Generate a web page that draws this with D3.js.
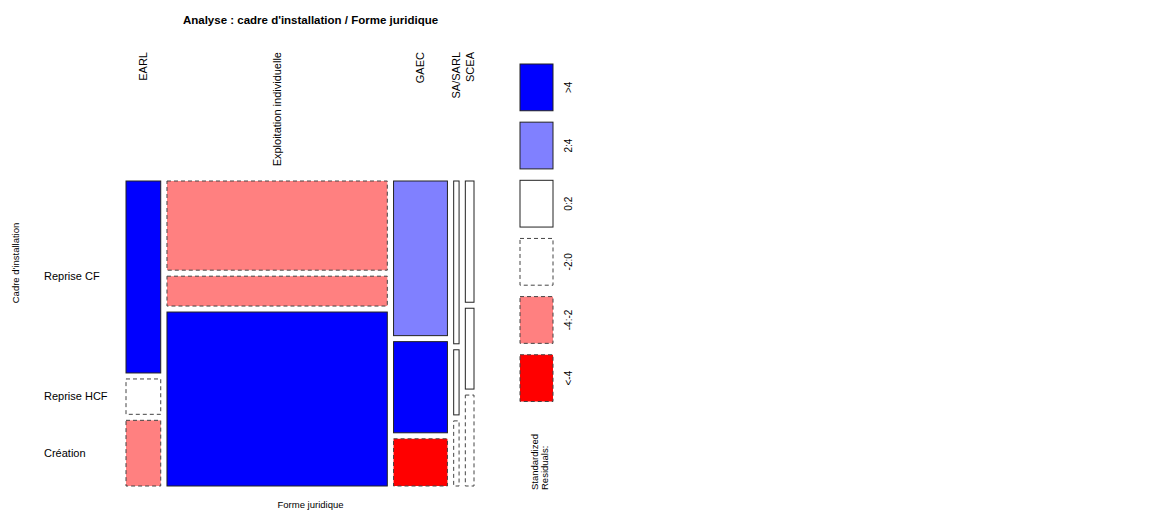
<!DOCTYPE html>
<html>
<head>
<meta charset="utf-8">
<script src="https://cdn.jsdelivr.net/npm/d3@7"></script>
<style>
  html, body { margin: 0; padding: 0; background: #fff; }
  svg { display: block; font-family: "Liberation Sans", Arial, sans-serif; }
</style>
</head>
<body>
<svg id="chart" width="1163" height="511"></svg>
<script>
// Contingency table: installation setting (rows) by legal form (columns)
const formes = ["EARL", "Exploitation individuelle", "GAEC", "SA/SARL", "SCEA"];
const cadres = ["Reprise CF", "Reprise HCF", "Création"];
const repriseCF  = [76, 224, 95, 10, 12];
const repriseHCF = [14, 75, 56, 4, 8];
const creation   = [26, 437, 29, 4, 9];

// Residual shading classes (Pearson residuals)
const residualLabels = [">4", "2:4", "0:2", "-2:0", "-4:-2", "<-4"];
const residualFills  = ["#0000FF", "#8080FF", "#FFFFFF", "#FFFFFF", "#FF8080", "#FF0000"];
const residualDashed = [false, false, false, true, true, true];

const counts = [repriseCF, repriseHCF, creation];

const svg = d3.select("#chart");

// Plot frame
const plotLeft = 126, plotRight = 474, plotTop = 181, plotBottom = 486;
const gapX = 6.25, gapY = 6;

const colTotals = formes.map((_, j) => d3.sum(counts, r => r[j]));
const rowTotals = counts.map(r => d3.sum(r));
const N = d3.sum(colTotals);

const x = d3.scaleLinear().domain([0, N])
  .range([0, (plotRight - plotLeft) - gapX * (formes.length - 1)]);
const yFrac = d3.scaleLinear().domain([0, 1])
  .range([0, (plotBottom - plotTop) - gapY * (cadres.length - 1)]);

function classOf(r) {
  if (r > 4) return 0;
  if (r > 2) return 1;
  if (r >= 0) return 2;
  if (r >= -2) return 3;
  if (r >= -4) return 4;
  return 5;
}

const tiles = [];
let cum = 0;
formes.forEach((f, j) => {
  const x0 = plotLeft + x(cum) + j * gapX;
  const w = x(colTotals[j]);
  let cumRow = 0;
  cadres.forEach((c, i) => {
    const o = counts[i][j];
    const e = colTotals[j] * rowTotals[i] / N;
    const res = (o - e) / Math.sqrt(e);
    const p = o / colTotals[j];
    const y0 = plotTop + yFrac(cumRow) + i * gapY;
    const h = yFrac(p);
    tiles.push({ forme: f, cadre: c, x: x0, w, y: y0, h, cls: classOf(res), i, j });
    cumRow += p;
  });
  cum += colTotals[j];
});

// Tiles
svg.append("g").selectAll("rect").data(tiles).join("rect")
  .attr("x", d => d.x)
  .attr("y", d => d.y)
  .attr("width", d => d.w)
  .attr("height", d => d.h)
  .attr("fill", d => residualFills[d.cls])
  .attr("stroke", d => residualDashed[d.cls] ? "#444" : "#222")
  .attr("stroke-width", 1)
  .attr("stroke-dasharray", d => residualDashed[d.cls] ? "4,3" : null);

// Column labels (legal form), rotated, top-aligned
const colCenters = formes.map((f, j) => {
  const t = tiles.find(d => d.j === j);
  return t.x + t.w / 2;
});
svg.append("g").selectAll("text").data(formes).join("text")
  .attr("transform", (d, j) => `translate(${colCenters[j] + 4},52) rotate(-90)`)
  .attr("text-anchor", "end")
  .attr("font-size", 11)
  .attr("fill", "#000")
  .text(d => d);

// Row labels (installation setting), at the first column's tile centres
svg.append("g").selectAll("text").data(cadres).join("text")
  .attr("x", 44)
  .attr("y", (d, i) => {
    const t = tiles.find(q => q.j === 0 && q.i === i);
    return t.y + t.h / 2 + 3.5;
  })
  .attr("font-size", 11)
  .attr("fill", "#000")
  .text(d => d);

// Title and axis titles
svg.append("text")
  .attr("x", 310.5).attr("y", 24)
  .attr("text-anchor", "middle")
  .attr("font-size", 11.5).attr("font-weight", "bold")
  .text("Analyse : cadre d'installation / Forme juridique");

svg.append("text")
  .attr("x", 310.5).attr("y", 508)
  .attr("text-anchor", "middle")
  .attr("font-size", 9.5)
  .text("Forme juridique");

svg.append("text")
  .attr("transform", "translate(19,263) rotate(-90)")
  .attr("text-anchor", "middle")
  .attr("font-size", 9.5)
  .text("Cadre d'installation");

// Legend
const legY = d3.scaleBand().domain(residualLabels).range([64, 401.5]).paddingInner(0.196).paddingOuter(0);
const leg = svg.append("g");
leg.selectAll("rect").data(residualLabels).join("rect")
  .attr("x", 520)
  .attr("y", d => legY(d))
  .attr("width", 33)
  .attr("height", legY.bandwidth())
  .attr("fill", (d, k) => residualFills[k])
  .attr("stroke", (d, k) => residualDashed[k] ? "#444" : "#222")
  .attr("stroke-dasharray", (d, k) => residualDashed[k] ? "4,3" : null);
leg.selectAll("text.lab").data(residualLabels).join("text")
  .attr("class", "lab")
  .attr("transform", d => `translate(572,${legY(d) + legY.bandwidth() / 2}) rotate(-90)`)
  .attr("text-anchor", "middle")
  .attr("font-size", 10)
  .text(d => d);

const legTitle = ["Standardized", "Residuals:"];
leg.selectAll("text.title").data(legTitle).join("text")
  .attr("class", "title")
  .attr("transform", (d, k) => `translate(${538 + k * 10},490) rotate(-90)`)
  .attr("text-anchor", "start")
  .attr("font-size", 9.5)
  .text(d => d);
</script>
</body>
</html>
